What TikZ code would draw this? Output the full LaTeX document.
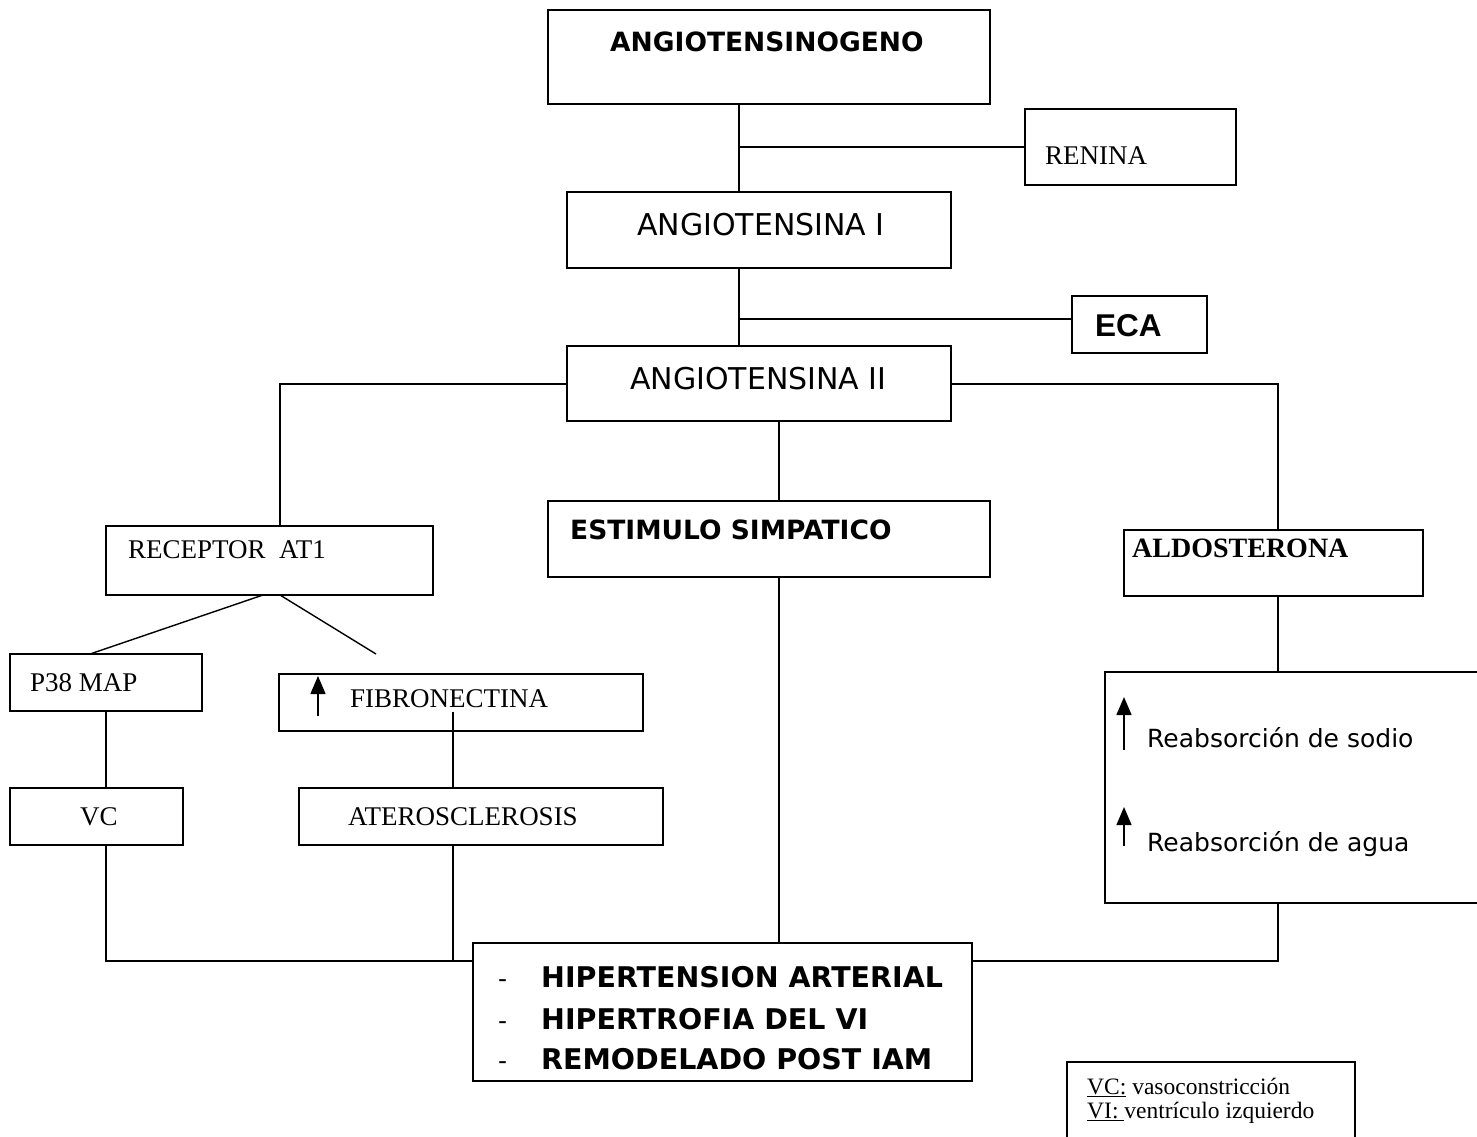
\documentclass[tikz,border=0pt]{standalone}
\usepackage{fontspec}
\setmainfont{Liberation Serif}
\newfontfamily\comic{DejaVu Sans}
\newfontfamily\arialf{Liberation Sans}
\usetikzlibrary{arrows.meta}
\begin{document}
\begin{tikzpicture}[x=1pt,y=-1pt,
  box/.style={draw, line width=1.4pt, inner sep=0pt},
  tms/.style={font=\fontsize{27}{30}\selectfont, anchor=base west, inner sep=0pt},
  cmc/.style={font=\comic\fontsize{30}{34}\selectfont, anchor=base west, inner sep=0pt},
  cmcs/.style={font=\comic\fontsize{25}{28}\selectfont, anchor=base west, inner sep=0pt},
  cmcb/.style={font=\comic\bfseries\fontsize{26.5}{30}\selectfont, anchor=base west, inner sep=0pt},
  cmcbl/.style={font=\comic\bfseries\fontsize{28.5}{32}\selectfont, anchor=base west, inner sep=0pt},
  link/.style={line width=1.4pt},
  uparrow/.style={-{Triangle[length=18pt,width=15pt]}, line width=1.5pt}]
\useasboundingbox (0,0) rectangle (1477,1136);

% boxes
\node[box, minimum width=442pt, minimum height=94pt] (ang0) at (769,57) {};
\node[box, minimum width=211pt, minimum height=76pt] (ren) at (1130.5,147) {};
\node[box, minimum width=384pt, minimum height=76pt] (ang1) at (759,230) {};
\node[box, minimum width=135pt, minimum height=57pt] (eca) at (1139.5,324.5) {};
\node[box, minimum width=384pt, minimum height=75pt] (ang2) at (759,383.5) {};
\node[box, minimum width=327pt, minimum height=69pt] (rec) at (269.5,560.5) {};
\node[box, minimum width=442pt, minimum height=76pt] (est) at (769,539) {};
\node[box, minimum width=299pt, minimum height=66pt] (ald) at (1273.5,563) {};
\node[box, minimum width=192pt, minimum height=57pt] (p38) at (106,682.5) {};
\node[box, minimum width=364pt, minimum height=57pt] (fib) at (461,702.5) {};
\node[box, minimum width=173pt, minimum height=57pt] (vc) at (96.5,816.5) {};
\node[box, minimum width=364pt, minimum height=57pt] (ate) at (481,816.5) {};
\node[box, minimum width=499pt, minimum height=138pt] (hip) at (722.5,1012) {};
\node[box, minimum width=395pt, minimum height=231pt] (reab) at (1302.5,787.5) {};
\node[box, minimum width=288pt, minimum height=88pt] (leg) at (1211,1106) {};

% texts
\node[cmcb] (t0) at (610,51) {ANGIOTENSINOGENO};
\node[tms] (t1) at (1045,164) {RENINA};
\node[cmc] (t2) at (637,235) {ANGIOTENSINA I};
\node[font=\arialf\bfseries\fontsize{31.5}{34}\selectfont, anchor=base west, inner sep=0pt] (t3) at (1095,336) {ECA};
\node[cmc] (t4) at (630,389) {ANGIOTENSINA II};
\node[tms] (t5) at (128,558) {RECEPTOR\ \ AT1};
\node[cmcb] (t6) at (570,539) {ESTIMULO SIMPATICO};
\node[tms, font=\bfseries\fontsize{28}{30}\selectfont] (t7) at (1132,557) {ALDOSTERONA};
\node[tms] (t8) at (30,691) {P38 MAP};
\node[tms] (t9) at (350,707) {FIBRONECTINA};
\node[tms] (t10) at (80,825) {VC};
\node[tms] (t11) at (348,825) {ATEROSCLEROSIS};
\node[cmcs] (t12) at (1147,747) {Reabsorción de sodio};
\node[cmcs] (t13) at (1147,851) {Reabsorción de agua};
\node[cmcbl] (h1) at (541,987) {HIPERTENSION ARTERIAL};
\node[cmcbl] (h2) at (541,1029) {HIPERTROFIA DEL VI};
\node[cmcbl] (h3) at (541,1069) {REMODELADO POST IAM};
\node[cmcs] (d1) at (498,987) {-};
\node[cmcs] (d2) at (498,1029) {-};
\node[cmcs] (d3) at (498,1069) {-};
\node[tms, font=\fontsize{23.5}{26}\selectfont] (l1) at (1087,1094) {\underline{VC:} vasoconstricción};
\node[tms, font=\fontsize{23.5}{26}\selectfont] (l2) at (1087,1118) {\underline{VI:\ }ventrículo izquierdo};

% up arrows
\coordinate (fa0) at (318,716); \coordinate (fa1) at (318,676);
\draw[uparrow] (fa0) -- (fa1);
\coordinate (sa0) at (1124,750); \coordinate (sa1) at (1124,697);
\draw[uparrow] (sa0) -- (sa1);
\coordinate (wa0) at (1124,846); \coordinate (wa1) at (1124,807);
\draw[uparrow] (wa0) -- (wa1);

% connectors
\coordinate (sx) at (739,0);
\coordinate (mx) at (779,0);
\draw[link] (ang0.south -| sx) -- (ang1.north -| sx);
\coordinate (rj) at (739,147);
\draw[link] (rj) -- (ren.west |- rj);
\draw[link] (ang1.south -| sx) -- (ang2.north -| sx);
\coordinate (ej) at (739,319);
\draw[link] (ej) -- (eca.west |- ej);
\coordinate (lx) at (280,384);
\coordinate (rx) at (1278,384);
\draw[link] (ang2.west |- lx) -| (rec.north -| lx);
\draw[link] (ang2.east |- rx) -| (ald.north -| rx);
\draw[link] (ang2.south -| mx) -- (est.north -| mx);
\coordinate (r1) at (263,595); \coordinate (r2) at (280,595);
\coordinate (pj) at (90,654); \coordinate (fe) at (376,654);
\draw[link] (r1) -- (pj);
\draw[link] (r2) -- (fe);
\coordinate (vx) at (106,0);
\draw[link] (p38.south -| vx) -- (vc.north -| vx);
\coordinate (fx) at (453,712);
\draw[link] (fx) -- (ate.north -| fx);
\coordinate (by) at (0,961);
\draw[link] (vc.south -| vx) |- (hip.west |- by);
\draw[link] (ate.south -| fx) -- (fx |- by);
\draw[link] (est.south -| mx) -- (hip.north -| mx);
\draw[link] (ald.south -| rx) -- (reab.north -| rx);
\draw[link] (reab.south -| rx) |- (hip.east |- by);
\end{tikzpicture}
\end{document}
